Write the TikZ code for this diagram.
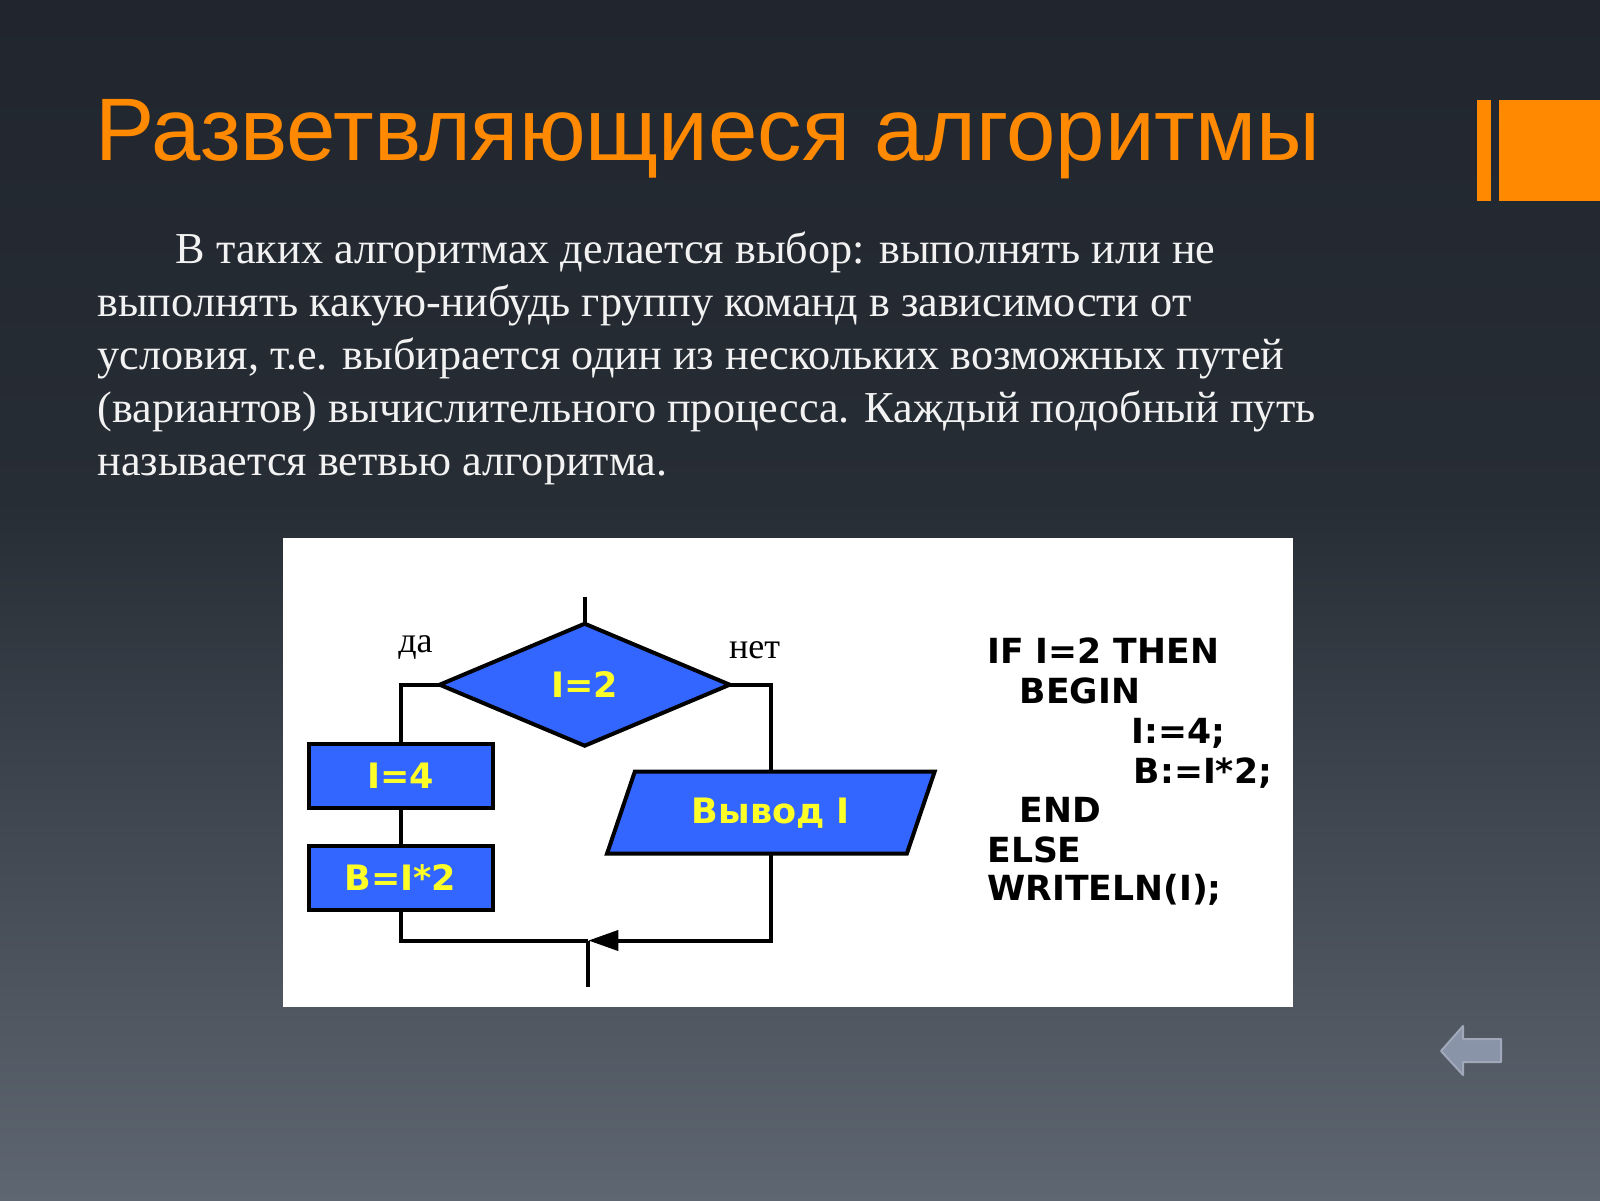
\documentclass[tikz,border=0pt]{standalone}
\usepackage{fontspec}
\setmainfont{Liberation Serif}
\newfontfamily\titlefont{Liberation Sans}
\newfontfamily\codefont{DejaVu Sans}
\usetikzlibrary{shapes.geometric,arrows.meta}
\definecolor{bgtop}{RGB}{33,38,46}
\definecolor{bgmid}{RGB}{39,45,53}
\definecolor{bgbot}{RGB}{94,102,113}
\definecolor{accent}{RGB}{255,137,0}
\definecolor{bodytext}{RGB}{242,242,242}
\definecolor{flowblue}{RGB}{51,102,255}
\definecolor{flowyellow}{RGB}{255,255,40}
\definecolor{navfill}{RGB}{138,148,168}
\definecolor{navedge}{RGB}{160,168,186}
\tikzset{
  bodyline/.style={anchor=base west, inner sep=0, text=bodytext, font=\fontsize{22.1}{26}\selectfont},
  codeline/.style={anchor=base west, inner sep=0, text=black, font=\codefont\bfseries\fontsize{17.3}{20}\selectfont},
  flowbox/.style={draw=black, line width=2pt, fill=flowblue, text=flowyellow, inner sep=0, outer sep=0,
    font=\codefont\bfseries\fontsize{17.5}{20}\selectfont},
  flowline/.style={draw=black, line width=2pt},
  branchlabel/.style={anchor=base west, inner sep=0, text=black, font=\fontsize{18}{20}\selectfont}
}
\begin{document}
\begin{tikzpicture}[x=0.5pt,y=-0.5pt]
\useasboundingbox (0,0) rectangle (1600,1200);
% background
\shade[top color=bgtop, bottom color=bgmid] (0,0) rectangle (1600,501);
\shade[top color=bgmid, bottom color=bgbot] (0,500) rectangle (1600,1200);
% orange bars
\fill[accent] (1476.5,100) rectangle (1490.8,200.5);
\fill[accent] (1499,100) rectangle (1600,200.5);
% title
\node[anchor=base west, inner sep=0, text=accent, font=\titlefont\fontsize{44.4}{50}\selectfont] (title) at (95,160) {Разветвляющиеся алгоритмы};
% body text
\node[bodyline] (l1) at (175.5,263) {В таких алгоритмах делается выбор: выполнять или не};
\node[bodyline] (l2) at (97,316.3) {выполнять какую-нибудь группу команд в зависимости от};
\node[bodyline] (l3) at (97,369.4) {условия, т.е. выбирается один из нескольких возможных путей};
\node[bodyline] (l4) at (97,422.4) {(вариантов) вычислительного процесса. Каждый подобный путь};
\node[bodyline] (l5) at (97,475.5) {называется ветвью алгоритма.};
% white panel
\fill[white] (282.7,537.8) rectangle (1292.9,1007.2);
% flowchart
\node[flowbox, diamond, minimum width=145pt, minimum height=61pt] (dec) at (584.7,684.7) {I=2};
\node[flowbox, rectangle, minimum width=92pt, minimum height=32pt] (b1) at (400.5,775.5) {I=4};
\node[flowbox, rectangle, minimum width=92pt, minimum height=32pt] (b2) at (400.5,877.6) {B=I*2};
\node[flowbox, trapezium, trapezium left angle=62, trapezium right angle=118, trapezium stretches=true,
      minimum width=164pt, minimum height=41pt] (out) at (770.8,812.7) {Вывод I};
\coordinate (top) at (584.7,597);
\coordinate (j) at (588.3,940.5);
\coordinate (endp) at (588.3,987);
\draw[flowline] (top) -- (dec.north);
\draw[flowline] (dec.west) -| (b1.north);
\draw[flowline] (b1.south) -- (b2.north);
\draw[flowline] (b2.south) |- (j);
\draw[flowline] (dec.east) -| (out.north);
\draw[flowline, -{Triangle[length=15pt, width=10pt]}] (out.south) |- (j);
\draw[flowline] (j) -- (endp);
\node[branchlabel] (yes) at (398,652) {да};
\node[branchlabel] (no) at (728.6,658) {нет};
% code
\node[codeline] (c1) at (987,663.3) {IF I=2 THEN};
\node[codeline] (c2) at (1019.5,703.3) {BEGIN};
\node[codeline] (c3) at (1131,743.3) {I:=4;};
\node[codeline] (c4) at (1133.5,783.3) {B:=I*2;};
\node[codeline] (c5) at (1019,822.5) {END};
\node[codeline] (c6) at (987,862) {ELSE};
\node[codeline] (c7) at (987,900.5) {WRITELN(I);};
% back arrow
\draw[fill=navfill, draw=navedge, line width=1pt, line join=round]
  (1441,1051) -- (1463,1026) -- (1463,1039) -- (1501,1039) -- (1501,1062) -- (1463,1062) -- (1463,1075) -- cycle;
\end{tikzpicture}
\end{document}
